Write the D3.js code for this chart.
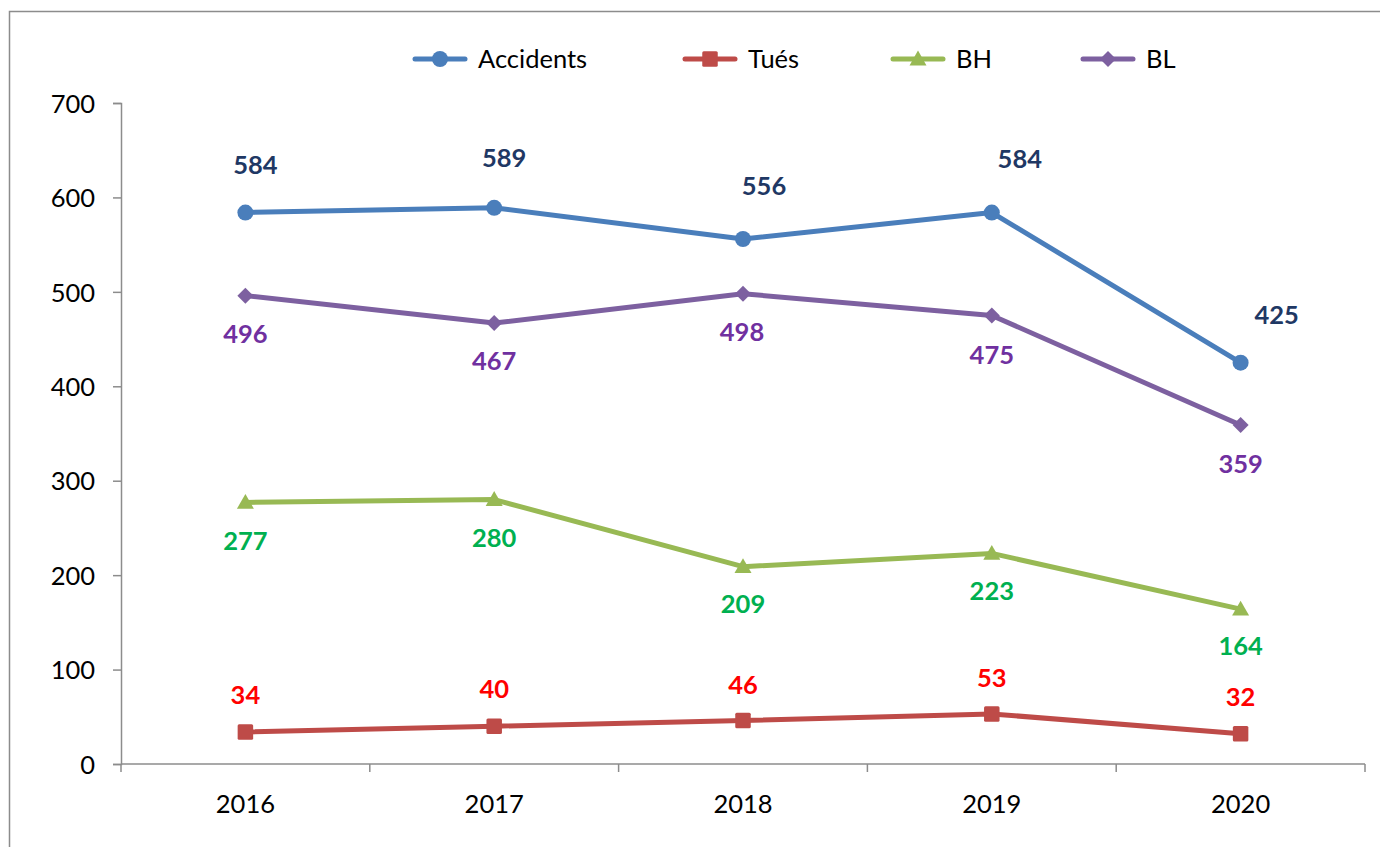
<!DOCTYPE html>
<html><head><meta charset="utf-8">
<script src="https://cdn.jsdelivr.net/npm/d3@7"></script>
<style>
html,body{margin:0;padding:0;background:#fff;}
svg{display:block;font-family:Lato, "Open Sans", sans-serif;}
</style></head>
<body>
<svg id="chart" width="1380" height="847"></svg>
<script>
const years = ["2016", "2017", "2018", "2019", "2020"];
const accidents = [584, 589, 556, 584, 425];
const tues = [34, 40, 46, 53, 32];
const bh = [277, 280, 209, 223, 164];
const bl = [496, 467, 498, 475, 359];
const yTicks = [0, 100, 200, 300, 400, 500, 600, 700];
const seriesNames = ["Accidents", "Tués", "BH", "BL"];

// label placement (layout only)
const accLabelDx = [10, 10, 21, 28, 36];
const accLabelDy = [-48, -50, -53, -54, -48];

const series = [
  {name: seriesNames[0], values: accidents, color: "#4A7EBB", labelColor: "#1F3864", marker: "circle", dx: accLabelDx, dy: accLabelDy},
  {name: seriesNames[1], values: tues, color: "#BE4B48", labelColor: "#FF0000", marker: "square", dx: [0,0,0,0,0], dy: [-37,-37,-36,-36,-37]},
  {name: seriesNames[2], values: bh, color: "#98B954", labelColor: "#00B050", marker: "triangle", dx: [0,0,0,0,0], dy: [38,38,37,37,37]},
  {name: seriesNames[3], values: bl, color: "#7D60A0", labelColor: "#7030A0", marker: "diamond", dx: [0,0,-1,0,0], dy: [38,38,38,39,39]}
];

const svg = d3.select("#chart");
const mLeft = 121, mRight = 1365, mTop = 103, mBottom = 764;

// outer border
svg.append("path").attr("d", "M9.5,847 V11.5 H1380").attr("fill", "none").attr("stroke", "#8c8c8c").attr("stroke-width", 1.5);

const x = d3.scaleBand().domain(years).range([mLeft, mRight]).padding(0);
const y = d3.scaleLinear().domain([0, 700]).range([mBottom, mTop]);

// y axis
const yAxis = svg.append("g").attr("transform", `translate(${mLeft},0)`)
  .call(d3.axisLeft(y).tickValues(yTicks).tickSize(8).tickPadding(18).tickFormat(d3.format("d")));
yAxis.select(".domain").attr("stroke", "#8c8c8c").attr("stroke-width", 1.5);
yAxis.selectAll(".tick line").attr("stroke", "#8c8c8c").attr("stroke-width", 1.5);
yAxis.selectAll(".tick text").attr("font-size", 25.5).attr("fill", "#000").attr("font-family", "Lato, sans-serif").attr("dy", "0.36em");

// x axis
const xAxis = svg.append("g").attr("transform", `translate(0,${mBottom})`)
  .call(d3.axisBottom(x).tickSize(0).tickPadding(31));
xAxis.select(".domain").remove();
svg.append("line").attr("x1", mLeft).attr("x2", mRight).attr("y1", mBottom).attr("y2", mBottom)
  .attr("stroke", "#8c8c8c").attr("stroke-width", 1.5);
const bounds = years.map(d => x(d)).concat([x(years[years.length-1]) + x.bandwidth()]);
svg.append("g").selectAll("line").data(bounds).join("line")
  .attr("x1", d => d).attr("x2", d => d).attr("y1", mBottom).attr("y2", mBottom + 8)
  .attr("stroke", "#8c8c8c").attr("stroke-width", 1.5);
xAxis.selectAll(".tick text").attr("font-size", 25.5).attr("fill", "#000").attr("font-family", "Lato, sans-serif");

const cx = d => x(d) + x.bandwidth() / 2;

function drawMarker(g, type, color, px, py, scale) {
  scale = scale || 1;
  if (type === "circle") {
    g.append("circle").attr("cx", px).attr("cy", py).attr("r", 8 * scale).attr("fill", color);
  } else if (type === "square") {
    const s = 15.5 * scale;
    g.append("rect").attr("x", px - s/2).attr("y", py - s/2).attr("width", s).attr("height", s).attr("rx", 1.5).attr("fill", color);
  } else if (type === "triangle") {
    const s = 8.5 * scale;
    g.append("path").attr("d", `M${px},${py - s} L${px + s},${py + s*0.75} L${px - s},${py + s*0.75} Z`).attr("fill", color);
  } else if (type === "diamond") {
    const s = 8 * scale;
    g.append("path").attr("d", `M${px},${py - s} L${px + s},${py} L${px},${py + s} L${px - s},${py} Z`).attr("fill", color);
  }
}

const line = d3.line().x((d, i) => cx(years[i])).y(d => y(d));

series.forEach(s => {
  const g = svg.append("g");
  g.append("path").datum(s.values).attr("d", line).attr("fill", "none")
    .attr("stroke", s.color).attr("stroke-width", 5).attr("stroke-linejoin", "round").attr("stroke-linecap", "round");
  s.values.forEach((v, i) => drawMarker(g, s.marker, s.color, cx(years[i]), y(v)));
});

// data labels
series.forEach(s => {
  svg.append("g").selectAll("text").data(s.values).join("text")
    .attr("x", (d, i) => cx(years[i]) + s.dx[i])
    .attr("y", (d, i) => y(d) + s.dy[i])
    .attr("dy", "0.36em")
    .attr("text-anchor", "middle")
    .attr("font-size", 25.5).attr("font-weight", "bold")
    .attr("fill", s.labelColor)
    .text(d => d);
});

// legend
const legendX = [415, 685, 893, 1083];
const legendY = 59;
series.forEach((s, i) => {
  const g = svg.append("g");
  g.append("line").attr("x1", legendX[i]).attr("x2", legendX[i] + 50).attr("y1", legendY).attr("y2", legendY)
    .attr("stroke", s.color).attr("stroke-width", 5).attr("stroke-linecap", "round");
  drawMarker(g, s.marker, s.color, legendX[i] + 25, legendY);
  g.append("text").attr("x", legendX[i] + 63).attr("y", legendY).attr("dy", "0.36em")
    .attr("font-size", 25.5).attr("fill", "#000").text(s.name);
});
</script>
</body></html>
